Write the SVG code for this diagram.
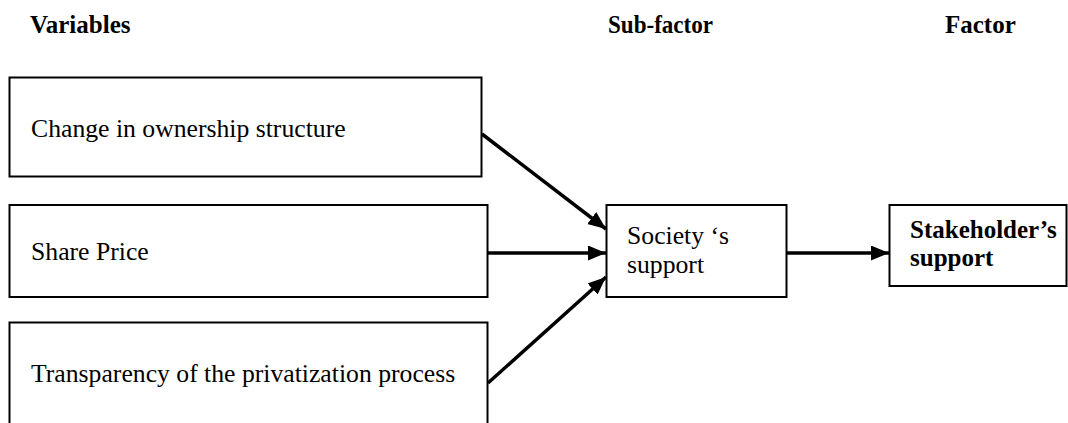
<svg xmlns="http://www.w3.org/2000/svg" width="1068" height="423" viewBox="0 0 1068 423">
  <style>
    .box { fill: #ffffff; stroke: #000000; stroke-width: 2; }
    .lbl { font-family: "Liberation Serif", "Times New Roman", serif; font-size: 25.7px; fill: #000000; }
    .hdr { font-family: "Liberation Serif", "Times New Roman", serif; font-size: 25px; font-weight: bold; fill: #000000; }
    .link { stroke: #000000; stroke-width: 3.5; fill: none; marker-end: url(#head); }
  </style>
  <defs>
    <marker id="head" markerUnits="userSpaceOnUse" markerWidth="19" markerHeight="16" refX="18" refY="7.5" orient="auto">
      <path d="M0,0 L18,7.5 L0,15 z" fill="#000000"/>
    </marker>
  </defs>

  <rect width="1068" height="423" fill="#ffffff"/>

  <!-- column headings -->
  <g id="headings">
    <text class="hdr" x="30" y="33">Variables</text>
    <text class="hdr" x="608" y="33" textLength="105" lengthAdjust="spacingAndGlyphs">Sub-factor</text>
    <text class="hdr" x="945" y="33">Factor</text>
  </g>

  <g id="ownership">
    <rect class="box" x="9.5" y="77.5" width="472" height="99"/>
    <text class="lbl" x="31" y="137">Change in ownership structure</text>
  </g>

  <g id="share-price">
    <rect class="box" x="9.5" y="205" width="478" height="92"/>
    <text class="lbl" x="31" y="260">Share Price</text>
  </g>

  <g id="transparency">
    <rect class="box" x="9.5" y="322.5" width="478" height="130"/>
    <text class="lbl" x="31" y="382">Transparency of the privatization process</text>
  </g>

  <g id="society">
    <rect class="box" x="606.5" y="205" width="180" height="92"/>
    <text class="lbl" x="627" y="244">Society ‘s</text>
    <text class="lbl" x="627" y="273">support</text>
  </g>

  <g id="stakeholder">
    <rect class="box" x="889.5" y="205" width="177" height="81"/>
    <text class="hdr" x="910" y="238">Stakeholder’s</text>
    <text class="hdr" x="910" y="266">support</text>
  </g>

  <g id="connectors">
    <line class="link" x1="482" y1="134" x2="606" y2="229"/>
    <line class="link" x1="487" y1="253" x2="606" y2="253"/>
    <line class="link" x1="488" y1="383" x2="606" y2="277"/>
    <line class="link" x1="786" y1="253" x2="889" y2="253"/>
  </g>
</svg>
